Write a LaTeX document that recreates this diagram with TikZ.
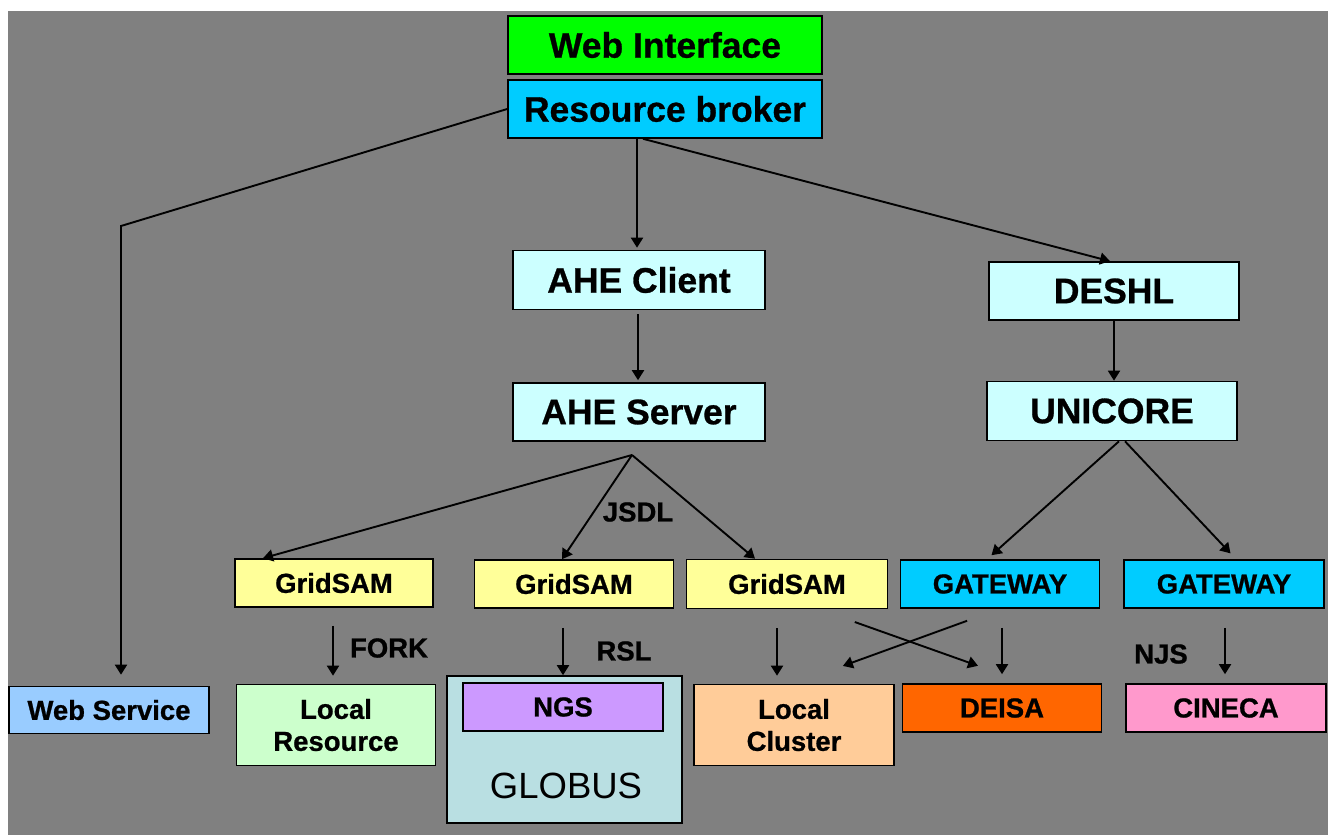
\documentclass[tikz,border=0pt]{standalone}
\usepackage{fontspec}
\setmainfont{Liberation Sans}[BoldFeatures={FakeBold=0.8}]
\usetikzlibrary{arrows.meta}
\definecolor{bg}{HTML}{808080}
\definecolor{cgreen}{HTML}{00FF00}
\definecolor{ccyan}{HTML}{00CCFF}
\definecolor{clight}{HTML}{CCFFFF}
\definecolor{cyellow}{HTML}{FFFF99}
\definecolor{cws}{HTML}{99CCFF}
\definecolor{clr}{HTML}{CCFFCC}
\definecolor{cglob}{HTML}{B9DFE2}
\definecolor{cngs}{HTML}{CC99FF}
\definecolor{clc}{HTML}{FFCC99}
\definecolor{cdeisa}{HTML}{FF6600}
\definecolor{ccin}{HTML}{FF99CC}
\tikzset{
  box/.style={draw=black, line width=1.6pt, inner sep=0pt, align=center},
  big/.style={font=\fontsize{35.5}{40}\selectfont\bfseries},
  small/.style={font=\fontsize{27.5}{32}\selectfont\bfseries},
  lbl/.style={font=\fontsize{27.5}{30}\selectfont\bfseries, inner sep=0pt},
  arr/.style={-{Triangle[length=10pt,width=12pt]}, line width=1.9pt, draw=black},
  ln/.style={line width=1.9pt, draw=black}
}
\begin{document}
\begin{tikzpicture}[x=1pt,y=-1pt]
\useasboundingbox (0,0) rectangle (1328,835);
\fill[white] (0,0) rectangle (1328,835);
\fill[bg] (8,11) rectangle (1328,835);

% top
\node[box,big,fill=cgreen,minimum width=314pt,minimum height=58pt] (wi) at (665,45) {Web Interface};
\node[box,big,fill=ccyan,minimum width=314pt,minimum height=58pt] (rb) at (665,109) {Resource broker};
% middle
\node[box,big,fill=clight,minimum width=252pt,minimum height=59pt] (ac) at (639,280) {AHE Client};
\node[box,big,fill=clight,minimum width=252pt,minimum height=58pt] (as) at (639,412) {AHE Server};
\node[box,big,fill=clight,minimum width=250pt,minimum height=58pt] (de) at (1114,291) {DESHL};
\node[box,big,fill=clight,minimum width=250pt,minimum height=59pt] (un) at (1112,411) {UNICORE};
% row 3
\node[box,small,fill=cyellow,minimum width=198pt,minimum height=48pt] (gs1) at (334,583) {GridSAM};
\node[box,small,fill=cyellow,minimum width=199pt,minimum height=48pt] (gs2) at (574,584) {GridSAM};
\node[box,small,fill=cyellow,minimum width=201pt,minimum height=49pt] (gs3) at (787,584) {GridSAM};
\node[box,small,fill=ccyan,minimum width=199pt,minimum height=48pt] (gw1) at (1000,584) {GATEWAY};
\node[box,small,fill=ccyan,minimum width=200pt,minimum height=48pt] (gw2) at (1224,584) {GATEWAY};
% bottom
\node[box,small,fill=cws,minimum width=200pt,minimum height=47pt] (ws) at (109,710) {Web Service};
\node[box,small,fill=clr,minimum width=199pt,minimum height=81pt] (lr) at (336,725) {Local\\Resource};
\node[box,fill=cglob,minimum width=235pt,minimum height=147pt] (glob) at (564.5,749.5) {};
\node[font=\fontsize{36.5}{40}\selectfont, inner sep=0pt] (globt) at (566,786) {GLOBUS};
\node[box,small,fill=cngs,minimum width=200pt,minimum height=48pt] (ngs) at (563,707) {NGS};
\node[box,small,fill=clc,minimum width=200pt,minimum height=81pt] (lc) at (794,725) {Local\\Cluster};
\node[box,small,fill=cdeisa,minimum width=199pt,minimum height=48pt] (deisa) at (1002,708) {DEISA};
\node[box,small,fill=ccin,minimum width=200pt,minimum height=48pt] (cin) at (1226,708) {CINECA};

% labels
\node[lbl] (jsdl) at (638,512) {JSDL};
\node[lbl] (fork) at (389,648) {FORK};
\node[lbl] (rsl) at (624,651) {RSL};
\node[lbl] (njs) at (1161,654) {NJS};

% connectors
\coordinate (wsc) at (121,226);
\draw[arr, shorten >=11pt] (rb.west) -- (wsc) -- (wsc |- ws.north);
\draw[arr, shorten >=2pt] ([xshift=-2pt]ac.north |- rb.south) -- ([xshift=-2pt]ac.north);
\draw[arr] ([xshift=-22pt]rb.south) -- ([xshift=-4pt]de.north);
\draw[arr, shorten <=4pt, shorten >=2pt] ([xshift=-1pt]ac.south) -- ([xshift=-1pt]as.north);
\draw[arr] (de.south) -- (de.south |- un.north);

\coordinate (asf) at (632,455);
\draw[arr] (asf) -- ([xshift=-71pt]gs1.north);
\draw[arr] (asf) -- ([xshift=-12pt]gs2.north);
\draw[arr] (asf) -- ([xshift=-32pt]gs3.north);

\draw[arr, shorten >=6pt] ([xshift=7pt]un.south) -- ([xshift=-13pt]gw1.north);
\draw[arr, shorten >=8pt] ([xshift=13pt]un.south) -- ([xshift=12pt]gw2.north);

\draw[arr, shorten <=18pt, shorten >=8pt] ([xshift=-1pt]gs1.south) -- ([xshift=-1pt]gs1.south |- lr.north);
\draw[arr, shorten <=19pt] ([xshift=-11pt]gs2.south) -- ([xshift=-11pt]gs2.south |- glob.north);
\draw[arr, shorten <=19pt, shorten >=8pt] ([xshift=-10pt]gs3.south) -- ([xshift=-10pt]gs3.south |- lc.north);
\draw[arr, shorten <=38pt, shorten >=52pt] ([xshift=32pt]gs3.south) -- ([xshift=25pt]deisa.north);
\draw[arr, shorten <=35pt, shorten >=52pt] (gw1.south) -- (lc.north);
\draw[arr, shorten <=19pt, shorten >=9pt] ([xshift=2pt]gw1.south) -- ([xshift=2pt]gw1.south |- deisa.north);
\draw[arr, shorten <=19pt, shorten >=9pt] ([xshift=1pt]gw2.south) -- ([xshift=1pt]gw2.south |- cin.north);
\end{tikzpicture}
\end{document}
